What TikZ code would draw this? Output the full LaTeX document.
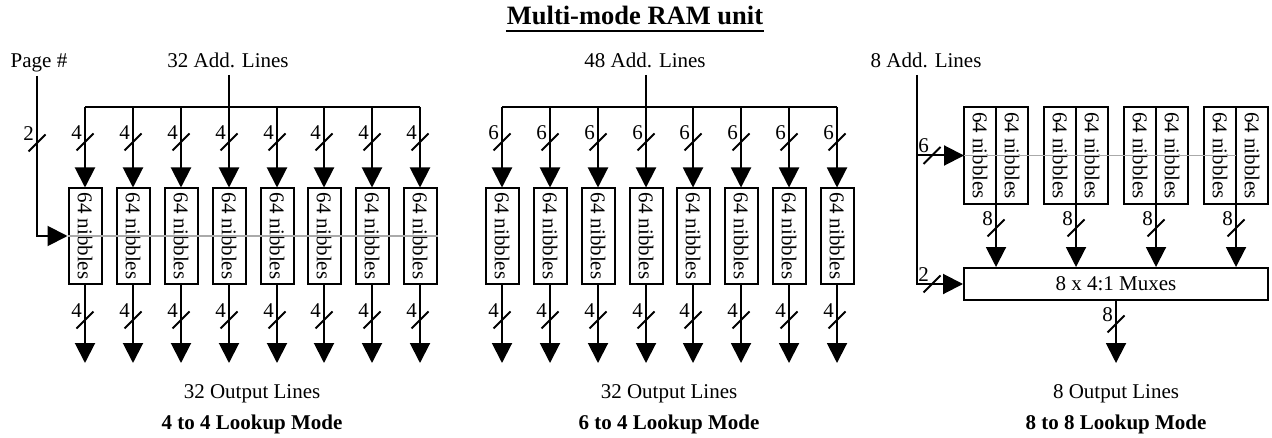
\documentclass[tikz,border=0pt]{standalone}
\usepackage{fontspec}
\setmainfont{Liberation Serif}
\usetikzlibrary{arrows.meta}
\definecolor{busgray}{RGB}{170,170,170}
\newcommand\slashlbl[3]{%
  \draw ([shift={(-8.5,8.5)}]#2) -- ([shift={(8.5,-8.5)}]#2);
  \node[lbl] (#1) at ([shift={(-8.5,-9.5)}]#2) {#3};
}
\begin{document}
\begin{tikzpicture}[x=0.5pt,y=-0.5pt,line width=1pt,
  font=\fontsize{10.5}{12}\selectfont,
  arr/.style={-{Triangle[length=10pt,width=10pt]}},
  nib/.style={draw,line width=1pt,minimum width=16.5pt,minimum height=47.5pt,inner sep=0pt},
  pairbox/.style={draw,line width=1pt,minimum width=16pt,minimum height=48.5pt,inner sep=0pt,outer sep=0pt},
  graybus/.style={draw=busgray,line width=0.6pt},
  lbl/.style={inner sep=0pt},
  txt/.style={inner sep=0pt,anchor=base},
  bold/.style={inner sep=0pt,anchor=base,font=\fontsize{10.5}{12}\selectfont\bfseries}]
\useasboundingbox (0,0) rectangle (1272,438);

% title
\node[txt,font=\fontsize{13.25}{15}\selectfont\bfseries] (title) at (635,25) {Multi-mode RAM unit};
\draw ([yshift=-3pt]title.base west) -- ([yshift=-3pt]title.base east);

% ---------- panel 1 ----------
\node[txt] (page) at (39,68) {Page \#};
\node[txt] (add1) at (228,68) {32 Add. Lines};
\foreach \x [count=\i] in {85,133,181,229,277,324,372,420} {
  \node[nib] (a\i) at (\x,236) {\rotatebox{-90}{64 nibbles}};
  \coordinate (at\i) at (\x,107);
  \coordinate (ao\i) at (\x,363);
  \draw[arr] (at\i) -- (a\i.north);
  \draw[arr] (a\i.south) -- (ao\i);
  \slashlbl{ail\i}{\x,142}{4}
  \slashlbl{aol\i}{\x,320}{4}
}
\coordinate (atop) at (229,75);
\draw (at1) -- (at8);
\draw (atop) -- (at4);
\coordinate (ptop) at (37,76);
\draw[arr] (ptop) |- (a1.west);
\slashlbl{pl}{37,143}{2}
\draw[graybus] (a1.west) -- (a8.east);
\node[txt] (out1) at (252,398) {32 Output Lines};
\node[bold] (mode1) at (252,429) {4 to 4 Lookup Mode};

% ---------- panel 2 ----------
\node[txt] (add2) at (645,68) {48 Add. Lines};
\foreach \x [count=\i] in {502,550,598,646,693,741,789,837} {
  \node[nib] (b\i) at (\x,236) {\rotatebox{-90}{64 nibbles}};
  \coordinate (bt\i) at (\x,107);
  \coordinate (bo\i) at (\x,363);
  \draw[arr] (bt\i) -- (b\i.north);
  \draw[arr] (b\i.south) -- (bo\i);
  \slashlbl{bil\i}{\x,142}{6}
  \slashlbl{bol\i}{\x,320}{4}
}
\coordinate (btop) at (646,75);
\draw (bt1) -- (bt8);
\draw (btop) -- (bt4);
\node[txt] (out2) at (669,398) {32 Output Lines};
\node[bold] (mode2) at (669,429) {6 to 4 Lookup Mode};

% ---------- panel 3 ----------
\node[txt] (add3) at (926,68) {8 Add. Lines};
\node[draw,line width=1pt,minimum width=152pt,minimum height=16pt,inner sep=0pt] (mux) at (1116,284) {8 x 4:1 Muxes};
\foreach \l [count=\i] in {964,1044,1124,1204} {
  \node[pairbox] (pl\i) at (\l+16,155.5) {\rotatebox{-90}{64 nibbles}};
  \node[pairbox] (pr\i) at (\l+48,155.5) {\rotatebox{-90}{64 nibbles}};
  \draw[arr] (pl\i.south east) -- (pl\i.south east |- mux.north);
  \slashlbl{cml\i}{\l+32,228}{8}
}
\coordinate (ctop) at (917,75);
\draw[arr] (ctop) |- (mux.west);
\draw[arr] (pl1.west -| ctop) -- (pl1.west);
\slashlbl{c6}{932,155.5}{6}
\slashlbl{c2}{932,284}{2}
\draw[graybus] (pl1.west) -- (pl4.east);
\coordinate (mo) at (1116,363);
\draw[arr] (mux.south) -- (mo);
\slashlbl{c8}{1116,324}{8}
\node[txt] (out3) at (1116,398) {8 Output Lines};
\node[bold] (mode3) at (1116,429) {8 to 8 Lookup Mode};
\end{tikzpicture}
\end{document}
